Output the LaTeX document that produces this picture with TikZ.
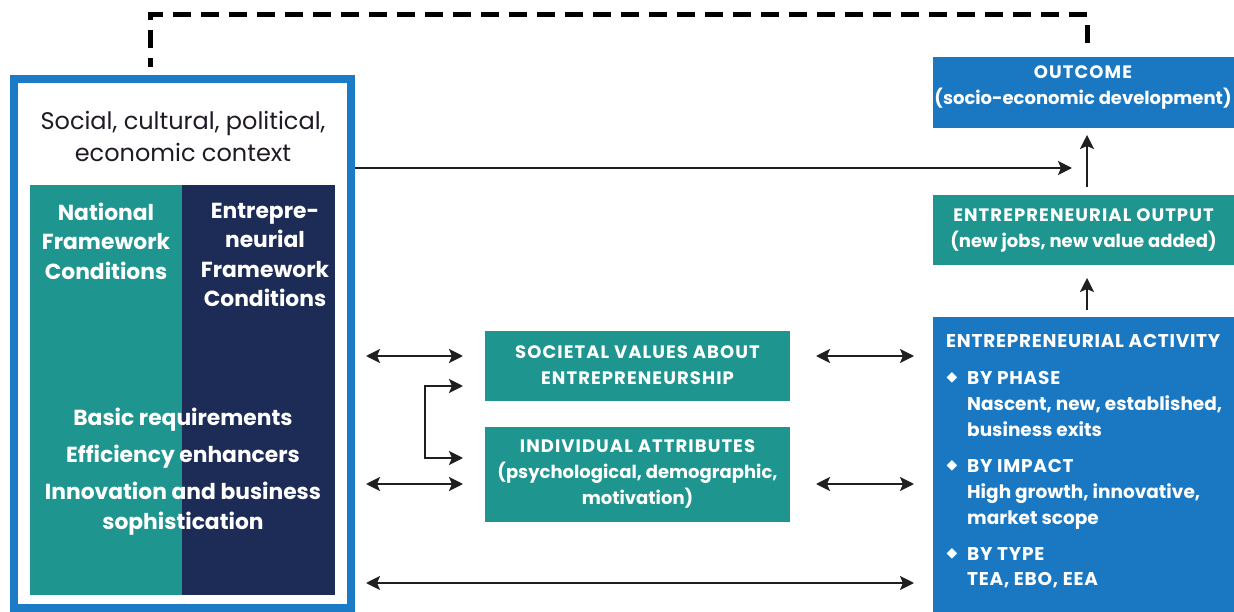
\documentclass[tikz,border=0pt]{standalone}
\usepackage{fontspec}
\setmainfont{Poppins}
\newfontfamily\symfont{DejaVu Sans}
\usetikzlibrary{arrows.meta}
\definecolor{frameblue}{HTML}{1C7BC6}
\definecolor{boxblue}{HTML}{1A78C2}
\definecolor{teal}{HTML}{1E958F}
\definecolor{navy}{HTML}{1D2C56}
\definecolor{darktext}{HTML}{1F1A26}
\newcommand\wideup[1]{{\addfontfeature{LetterSpace=6}#1}}
\newcommand\wideact[1]{{\addfontfeature{LetterSpace=4}#1}}
\tikzset{
  box/.style={inner sep=0pt, outer sep=0pt, text=white, font=\bfseries\fontsize{18}{26}\selectfont, align=center},
  tealbox/.style={box, fill=teal},
  bluebox/.style={box, fill=boxblue},
  whitetxt/.style={text=white, font=\bfseries\fontsize{21.8}{29.5}\selectfont, align=center, inner sep=0pt},
  acttxt/.style={text=white, font=\bfseries\fontsize{18.5}{26}\selectfont, anchor=base west, inner sep=0pt},
  diam/.style={text=white, font=\symfont\fontsize{14}{14}\selectfont, inner sep=0pt},
  conn/.style={line width=2.3pt, draw=black!88},
  biarrow/.style={conn, {Stealth[length=14pt,width=14pt,inset=3pt]}-{Stealth[length=14pt,width=14pt,inset=3pt]}},
  onearrow/.style={conn, -{Stealth[length=14pt,width=14pt,inset=3pt]}},
}
\begin{document}
\begin{tikzpicture}[x=1pt,y=-1pt]
\useasboundingbox (0,0) rectangle (1234,612);
% left context frame
\node[draw=frameblue, line width=8pt, fill=white, minimum width=337pt, minimum height=529pt, inner sep=0pt] (ctx) at (182.5,343.5) {};
\node[fill=teal, minimum width=152pt, minimum height=410pt, inner sep=0pt, outer sep=0pt] (nfc) at (106,390) {};
\node[fill=navy, minimum width=153pt, minimum height=410pt, inner sep=0pt, outer sep=0pt] (efc) at (258.5,390) {};
\node[text=darktext, font=\fontsize{24}{32}\selectfont, align=center, inner sep=0pt] (ctxt) at (183,136) {Social, cultural, political,\\economic context};
\node[whitetxt] (nfct) at (106,241) {National\\Framework\\Conditions};
\node[whitetxt] (efct) at (265,255) {Entrepre-\\neurial\\Framework\\Conditions};
\node[whitetxt] (basic) at (183,420) {Basic requirements};
\node[whitetxt] (eff) at (183,457) {Efficiency enhancers};
\node[whitetxt, font=\bfseries\fontsize{21.8}{30}\selectfont] (innov) at (183,509) {Innovation and business\\sophistication};
% middle boxes
\node[tealbox, minimum width=305pt, minimum height=70pt] (soc) at (637.5,365.5) {\wideup{SOCIETAL VALUES ABOUT}\\\wideup{ENTREPRENEURSHIP}};
\node[tealbox, minimum width=305pt, minimum height=95pt] (ind) at (637.5,474) {\wideup{INDIVIDUAL ATTRIBUTES}\\(psychological, demographic,\\motivation)};
% right boxes
\node[bluebox, minimum width=301pt, minimum height=71pt] (out) at (1083.5,92.5) {};
\node[box, anchor=north] (outt) at (1083,66) {\wideup{OUTCOME}\\(socio-economic development)};
\node[tealbox, minimum width=301pt, minimum height=70pt] (eo) at (1083.5,230) {\wideup{ENTREPRENEURIAL OUTPUT}\\(new jobs, new value added)};
\node[bluebox, minimum width=301pt, minimum height=295pt] (act) at (1083.5,464.5) {};
\node[acttxt] (a0) at (946,347) {\wideact{ENTREPRENEURIAL ACTIVITY}};
\node[diam] (d1) at (952,378) {◆};
\node[acttxt] (a1) at (967,384) {\wideact{BY PHASE}};
\node[acttxt] (a2) at (967,410) {Nascent, new, established,};
\node[acttxt] (a3) at (967,436) {business exits};
\node[diam] (d2) at (952,466) {◆};
\node[acttxt] (a4) at (967,472) {\wideact{BY IMPACT}};
\node[acttxt] (a5) at (967,498) {High growth, innovative,};
\node[acttxt] (a6) at (967,524) {market scope};
\node[diam] (d3) at (952,554) {◆};
\node[acttxt] (a7) at (967,560) {\wideact{BY TYPE}};
\node[acttxt] (a8) at (967,585) {\wideact{TEA, EBO, EEA}};
% dashed feedback
\coordinate (dA) at (150,67);
\coordinate (dB) at (150,15);
\coordinate (dC) at (1087,15);
\coordinate (dD) at (1087,50);
\draw[line width=5pt, dash pattern=on 18pt off 10pt, dash phase=9pt] (dA) -- (dB) -- (dC) -- (dD);
% connectors
\coordinate (h1) at (1072,168);
\draw[onearrow] (ctx.east |- h1) -- (h1);
\coordinate (u1) at (1087,187); \coordinate (u2) at (1087,135);
\coordinate (v1) at (1087,310); \coordinate (v2) at (1087,278);
\draw[onearrow] (u1) -- (u2);
\draw[onearrow] (v1) -- (v2);
\coordinate (l1a) at (366,356); \coordinate (l1b) at (463,356);
\coordinate (l2a) at (366,484); \coordinate (l2b) at (463,484);
\coordinate (r1a) at (816,356); \coordinate (r1b) at (914,356);
\coordinate (r2a) at (816,484); \coordinate (r2b) at (914,484);
\coordinate (ba) at (366,583); \coordinate (bb) at (914,583);
\draw[biarrow] (l1a) -- (l1b);
\draw[biarrow] (l2a) -- (l2b);
\draw[biarrow] (r1a) -- (r1b);
\draw[biarrow] (r2a) -- (r2b);
\draw[biarrow] (ba) -- (bb);
\coordinate (k1) at (463,386);
\coordinate (k2) at (463,458);
\coordinate (km) at (425,420);
\draw[biarrow] (k1) -| (km) |- (k2);
\end{tikzpicture}
\end{document}
